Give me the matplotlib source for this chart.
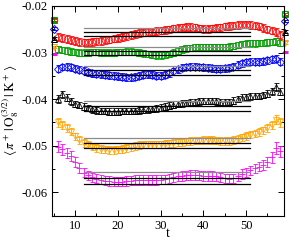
import numpy as np
import matplotlib
matplotlib.use("Agg")
import matplotlib.pyplot as plt
from matplotlib.ticker import MultipleLocator

plt.rcParams['font.family'] = ['Liberation Serif', 'DejaVu Serif']
plt.rcParams['mathtext.fontset'] = 'stix'
plt.rcParams['axes.unicode_minus'] = False

t = list(range(6, 59))

red = [-26.7, -26.9, -27.1, -27.3, -27.5, -27.7, -27.8, -27.8, -27.7, -27.6,
       -27.5, -27.3, -27.2, -27.0, -26.9, -26.7, -26.4, -26.2, -26.0, -25.8,
       -25.7, -25.6, -25.5, -25.4, -25.3, -25.2, -25.0, -24.8, -24.7, -24.6,
       -24.5, -24.5, -24.6, -24.8, -24.9, -24.9, -24.8, -24.7, -24.6, -24.4,
       -24.3, -24.2, -24.1, -24.0, -24.0, -24.1, -24.2, -24.4, -24.7, -25.0,
       -25.3, -25.6, -26.2]
green = [-29.2, -29.4, -29.6, -29.8, -29.9, -30.0, -30.0, -30.0, -29.9, -29.9,
         -30.0, -30.0, -30.0, -30.0, -29.9, -29.9, -29.8, -29.8, -29.9, -30.0,
         -30.2, -30.3, -30.5, -30.6, -30.6, -30.5, -30.3, -30.0, -29.6, -29.3,
         -29.1, -29.0, -28.9, -28.9, -28.9, -28.9, -28.8, -28.8, -28.8, -28.8,
         -28.7, -28.6, -28.4, -28.2, -28.1, -28.0, -28.0, -27.9, -27.9, -27.8,
         -27.7, -27.6, -27.9]
blue = [-33.5, -33.1, -33.0, -33.2, -33.5, -33.7, -33.9, -34.2, -34.4, -34.6,
        -34.7, -34.8, -34.9, -35.0, -35.1, -35.2, -35.3, -35.3, -35.2, -35.0,
        -34.8, -34.7, -34.8, -35.0, -35.0, -34.8, -34.4, -34.0, -33.6, -33.3,
        -33.1, -33.0, -33.0, -33.1, -33.2, -33.3, -33.4, -33.5, -33.5, -33.4,
        -33.3, -33.0, -32.6, -32.3, -32.1, -32.0, -32.0, -32.0, -31.9, -31.7,
        -31.4, -31.3, -32.0]
black = [-40.0, -39.0, -39.7, -40.5, -41.0, -41.3, -41.6, -41.9, -42.2, -42.4,
         -42.5, -42.6, -42.7, -42.7, -42.7, -42.6, -42.6, -42.6, -42.5, -42.4,
         -42.3, -42.2, -42.1, -42.0, -41.8, -41.6, -41.4, -41.2, -41.0, -40.9,
         -40.8, -40.7, -40.6, -40.5, -40.4, -40.4, -40.4, -40.5, -40.6, -40.7,
         -40.6, -40.3, -40.0, -39.7, -39.5, -39.4, -39.3, -39.3, -39.1, -38.8,
         -38.3, -37.4, -38.4]
orange = [-45.0, -45.6, -46.2, -47.0, -48.0, -48.8, -49.4, -49.8, -50.2, -50.5,
          -50.7, -50.8, -50.9, -50.9, -50.8, -50.7, -50.5, -50.3, -50.1, -49.9,
          -49.8, -49.7, -49.7, -49.7, -49.7, -49.6, -49.5, -49.4, -49.3, -49.2,
          -49.1, -49.0, -48.9, -48.9, -48.8, -48.8, -48.8, -48.9, -49.0, -49.0,
          -49.0, -48.8, -48.5, -48.2, -47.9, -47.6, -47.4, -47.1, -46.7, -46.2,
          -45.5, -44.4, -45.0]
magenta = [-50.2, -50.8, -51.5, -52.3, -53.5, -54.8, -55.8, -56.4, -56.8, -57.1,
           -57.3, -57.5, -57.6, -57.7, -57.7, -57.7, -57.6, -57.5, -57.4, -57.4,
           -57.4, -57.4, -57.4, -57.4, -57.3, -57.2, -57.0, -56.8, -56.6, -56.5,
           -56.4, -56.3, -56.3, -56.4, -56.5, -56.5, -56.5, -56.6, -56.8, -57.0,
           -57.1, -57.0, -56.6, -56.1, -55.7, -55.3, -54.9, -54.5, -54.1, -53.5,
           -52.5, -50.5, -51.2]

err_red = [0.8] * 53
err_green = [0.7] * 53
err_blue = [0.75] * 53
err_black = [0.8, 0.8, 0.75] + [0.7] * 47 + [0.75, 0.8, 0.8]
err_orange = [0.9, 0.9, 0.85] + [0.8] * 47 + [0.85, 0.9, 0.9]
err_magenta = [1.1, 1.1, 1.1, 1.05, 1.0] + [1.0] * 43 + [1.05, 1.1, 1.15, 1.2, 1.2]

# edge points (t at source / sink)
t_edge = [5, 59]
edge_red = [-22.9, -21.7]
edge_green = [-23.1, -21.8]
edge_blue = [-24.9, -23.2]
edge_black = [-27.0, -25.5]
edge_orange = [-28.8, -27.9]
edge_magenta = [-30.3, -29.9]

# fit bands: (upper, central, lower)
fit_range = [12, 51]
band_red = [-24.76, -25.63, -26.49]
band_green = [-28.87, -29.74, -30.61]
band_blue = [-32.99, -33.85, -34.83]
band_black = [-40.45, -41.53, -42.62]
band_orange = [-48.35, -49.44, -50.52]
band_magenta = [-55.76, -56.97, -58.27]

series = [
    (red, err_red, edge_red, band_red, '#ff0000', 'o'),
    (green, err_green, edge_green, band_green, '#00a000', 's'),
    (blue, err_blue, edge_blue, band_blue, '#0000ff', 'D'),
    (black, err_black, edge_black, band_black, '#000000', '^'),
    (orange, err_orange, edge_orange, band_orange, '#ffa500', 'v'),
    (magenta, err_magenta, edge_magenta, band_magenta, '#ff00ff', '_'),
]

fig = plt.figure(figsize=(2.89, 2.40), dpi=100)
ax = fig.add_axes([0.18, 0.102, 0.803, 0.873])

sc = 1e-3
for vals, errs, edge, band, col, mk in series:
    y = np.array(vals) * sc
    e = np.array(errs) * sc
    ms = 4.6 if mk != 'D' else 4.0
    ax.errorbar(t, y, yerr=e, fmt=mk, color=col, mfc='none', mec=col,
                ms=ms, mew=0.7, elinewidth=0.7, capsize=1.8, capthick=0.7,
                alpha=0.85, zorder=2)
    ax.errorbar(t_edge, np.array(edge) * sc, yerr=0.3 * sc, fmt=mk, color=col,
                mfc='none', mec=col, ms=ms, mew=0.7, elinewidth=0.7,
                capsize=1.8, capthick=0.7, clip_on=False, zorder=2)
    up, mid, lo = [b * sc for b in band]
    ax.plot(fit_range, [up, up], color='#8c8c8c', lw=0.9, zorder=3)
    ax.plot(fit_range, [mid, mid], color='#000000', lw=0.9, zorder=3)
    ax.plot(fit_range, [lo, lo], color='#000000', lw=0.9, zorder=3)

ax.set_xlim(4.6, 58.9)
ax.set_ylim(-0.065, -0.02)
ax.xaxis.set_major_locator(MultipleLocator(10))
ax.xaxis.set_minor_locator(MultipleLocator(5))
ax.yaxis.set_major_locator(MultipleLocator(0.01))
ax.yaxis.set_minor_locator(MultipleLocator(0.005))
ax.yaxis.set_major_formatter(matplotlib.ticker.FormatStrFormatter('%.2f'))
ax.tick_params(which='both', direction='in', top=True, right=True,
               labelsize=9, width=0.7)
ax.tick_params(which='major', length=4, pad=3)
ax.tick_params(which='minor', length=2.5)
for s in ax.spines.values():
    s.set_linewidth(0.8)

ax.set_xlabel('t', fontsize=10, va='center')
ax.xaxis.set_label_coords(0.5, -0.088)
ax.set_ylabel(r'$\langle\,\pi^+\,|\,\mathrm{O}_8^{(3/2)}\,|\,\mathrm{K}^+\,\rangle$',
              fontsize=9.5, va='center')
ax.yaxis.set_label_coords(-0.178, 0.5)

fig.savefig('out.png', dpi=100)
